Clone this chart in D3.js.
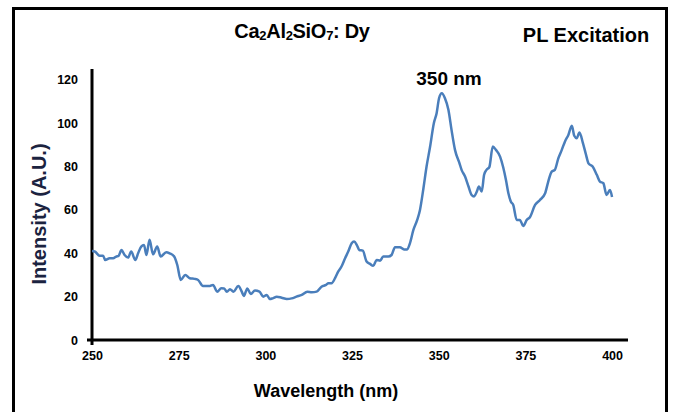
<!DOCTYPE html>
<html>
<head>
<meta charset="utf-8">
<script src="https://cdn.jsdelivr.net/npm/d3@7"></script>
<style>
  body { margin: 0; background: #fff; }
  svg { display: block; }
  .tick-label { font-family: "Liberation Sans Narrow", "Arial Narrow", "Liberation Sans", sans-serif; font-weight: bold; font-size: 12.5px; fill: #000; }
</style>
</head>
<body>
<svg id="chart" width="673" height="412"></svg>
<script>
// --- Data ---
const wavelength = [
  250, 250.8, 252.2, 253.2, 253.8, 255.1, 256.1, 257, 257.7, 258.5, 259.4, 260.4, 261.3, 262.5,
  263.3, 264.2, 265, 265.7, 266.6, 267.6, 268.8, 269.8, 271.4, 272.4, 273.7, 274.6, 275.6, 276.9,
  278.2, 279.6, 280.6, 282, 284, 284.9, 286.1, 287.3, 288.1, 288.9, 289.8, 290.8, 292.2, 293.2,
  293.8, 294.8, 295.8, 297, 298.3, 299.4, 300.4, 301.3, 302.1, 303.3, 304.7, 306.2, 307.6, 309,
  310.5, 312.1, 313.4, 314.8, 316.2, 317.5, 318.2, 319.1, 320.1, 321, 322, 323, 323.9, 324.9,
  325.6, 326.4, 327.1, 328.1, 329.2, 330.2, 331.1, 332.1, 333.1, 334, 335.5, 336.4, 337.4, 338.8,
  340, 340.9, 341.7, 342.7, 343.8, 344.6, 345.6, 346.5, 347.5, 348.6, 349.4, 350.1, 350.9, 351.8,
  352.8, 353.7, 354.7, 356, 356.6, 357.6, 358.6, 359.5, 360.2, 361, 361.6, 362.4, 363.1, 363.8,
  364.6, 365.6, 366.5, 367.7, 368.6, 369.4, 370.1, 370.8, 371.5, 372.5, 373.4, 374.4, 375.4, 376.3,
  377.8, 379.2, 380.7, 381.6, 382.6, 383.5, 384.5, 385.5, 386.4, 387.4, 388.4, 389.1, 389.8, 390.6,
  391.6, 392.5, 393.2, 394.4, 395.6, 396.5, 397.5, 398.4, 399.4, 400
];
const intensity = [
  41, 40.8, 38.9, 38.9, 36.9, 37.7, 37.7, 38.5, 38.9, 41.5, 39.2, 38, 40.8, 36.9,
  40, 43.1, 43.8, 39.2, 46.2, 39.5, 43.1, 38.5, 40.5, 40, 38.5, 34.6, 27.7, 30,
  28.5, 28.2, 27.7, 24.9, 24.9, 25.4, 22.3, 23.9, 23.8, 22.3, 23.4, 22.3, 24.9, 22.3,
  20.3, 23.8, 21.2, 22.8, 22.3, 20, 20.8, 18.9, 19.2, 20, 19.5, 18.9, 19.2, 20,
  20.8, 22.3, 22, 22.3, 24.6, 25.4, 26.2, 26.2, 28.5, 31.5, 34, 37.7, 40.8, 44.6,
  45.4, 43.8, 41.5, 41.2, 36.2, 35.1, 34.2, 36.9, 36.6, 38.5, 38.5, 39.2, 42.8, 42.8,
  41.8, 41.8, 44.6, 50.8, 55.4, 60, 70, 80, 89, 100, 104.6, 111.5, 113.8, 111.5,
  106.2, 96.9, 87.7, 81.5, 78.5, 75.4, 70.8, 66.9, 66.2, 68.5, 70.8, 68.5, 76.2, 78.5,
  79.7, 89.2, 87.7, 84.6, 79.7, 73.8, 67.7, 63.9, 62.3, 55.4, 55.4, 52.6, 55.4, 56.6,
  62.3, 64.6, 67.7, 73.1, 77.7, 78.5, 83.8, 87.7, 91.5, 94.6, 98.8, 94.2, 93.1, 95.7,
  90.8, 85.4, 81.5, 80, 76.2, 73.1, 72.3, 66.9, 69.2, 66
];
const xTicks = [250, 275, 300, 325, 350, 375, 400];
const yTicks = [0, 20, 40, 60, 80, 100, 120];

const points = wavelength.map((w, i) => ({ w, v: intensity[i] }));

const svg = d3.select("#chart");
const font = "Liberation Sans, Arial, sans-serif";

// outer frame
svg.append("rect")
  .attr("x", 13.5).attr("y", 8.5)
  .attr("width", 653).attr("height", 420)
  .attr("fill", "none").attr("stroke", "#000").attr("stroke-width", 3);

// --- Scales ---
const x = d3.scaleLinear().domain([250, 404.6]).range([92, 628]);
const y = d3.scaleLinear().domain([0, 125]).range([340, 69]);

// --- Axes ---
const xAxis = svg.append("g")
  .attr("transform", `translate(0,${y(0)})`)
  .call(d3.axisBottom(x).tickValues(xTicks).tickSize(0).tickPadding(11));
xAxis.select(".domain").remove();
xAxis.selectAll("text").attr("class", "tick-label");

const yAxis = svg.append("g")
  .attr("transform", `translate(${x(250)},0)`)
  .call(d3.axisLeft(y).tickValues(yTicks).tickSize(0).tickPadding(14));
yAxis.select(".domain").remove();
yAxis.selectAll("text").attr("class", "tick-label");

// axis lines
svg.append("line")
  .attr("x1", x(250) - 5).attr("x2", x(404.6))
  .attr("y1", y(0)).attr("y2", y(0))
  .attr("stroke", "#000").attr("stroke-width", 3);
svg.append("line")
  .attr("x1", x(250)).attr("x2", x(250))
  .attr("y1", y(125)).attr("y2", y(0) + 5)
  .attr("stroke", "#000").attr("stroke-width", 3);

// --- Spectrum line ---
svg.append("path")
  .datum(points)
  .attr("fill", "none")
  .attr("stroke", "#4a7ebb")
  .attr("stroke-width", 2.5)
  .attr("stroke-linejoin", "round")
  .attr("d", d3.line().curve(d3.curveMonotoneX).x((d) => x(d.w)).y((d) => y(d.v)));

// --- Texts ---
const title = svg.append("text")
  .attr("x", 302).attr("y", 38)
  .attr("text-anchor", "middle")
  .attr("font-family", font)
  .attr("font-weight", "bold")
  .attr("font-size", 20)
  .attr("letter-spacing", -0.3);
[["Ca", false], ["2", true], ["Al", false], ["2", true], ["SiO", false], ["7", true], [": Dy", false]]
  .forEach(([t, sub], i) => {
    const ts = title.append("tspan").text(t);
    if (sub) ts.attr("font-size", 13).attr("dy", 2);
    else if (i > 0) ts.attr("dy", -2);
  });

svg.append("text")
  .attr("x", 586).attr("y", 42)
  .attr("text-anchor", "middle")
  .attr("font-family", font)
  .attr("font-weight", "bold")
  .attr("font-size", 20)
  .text("PL Excitation");

svg.append("text")
  .attr("x", 449).attr("y", 85)
  .attr("text-anchor", "middle")
  .attr("font-family", font)
  .attr("font-weight", "bold")
  .attr("font-size", 19)
  .text("350 nm");

svg.append("text")
  .attr("x", 326).attr("y", 397)
  .attr("text-anchor", "middle")
  .attr("font-family", font)
  .attr("font-weight", "bold")
  .attr("font-size", 18)
  .text("Wavelength (nm)");

svg.append("text")
  .attr("transform", "translate(46,214) rotate(-90)")
  .attr("text-anchor", "middle")
  .attr("font-family", font)
  .attr("font-weight", "bold")
  .attr("font-size", 20)
  .attr("fill", "#1b2340")
  .text("Intensity (A.U.)");
</script>
</body>
</html>
